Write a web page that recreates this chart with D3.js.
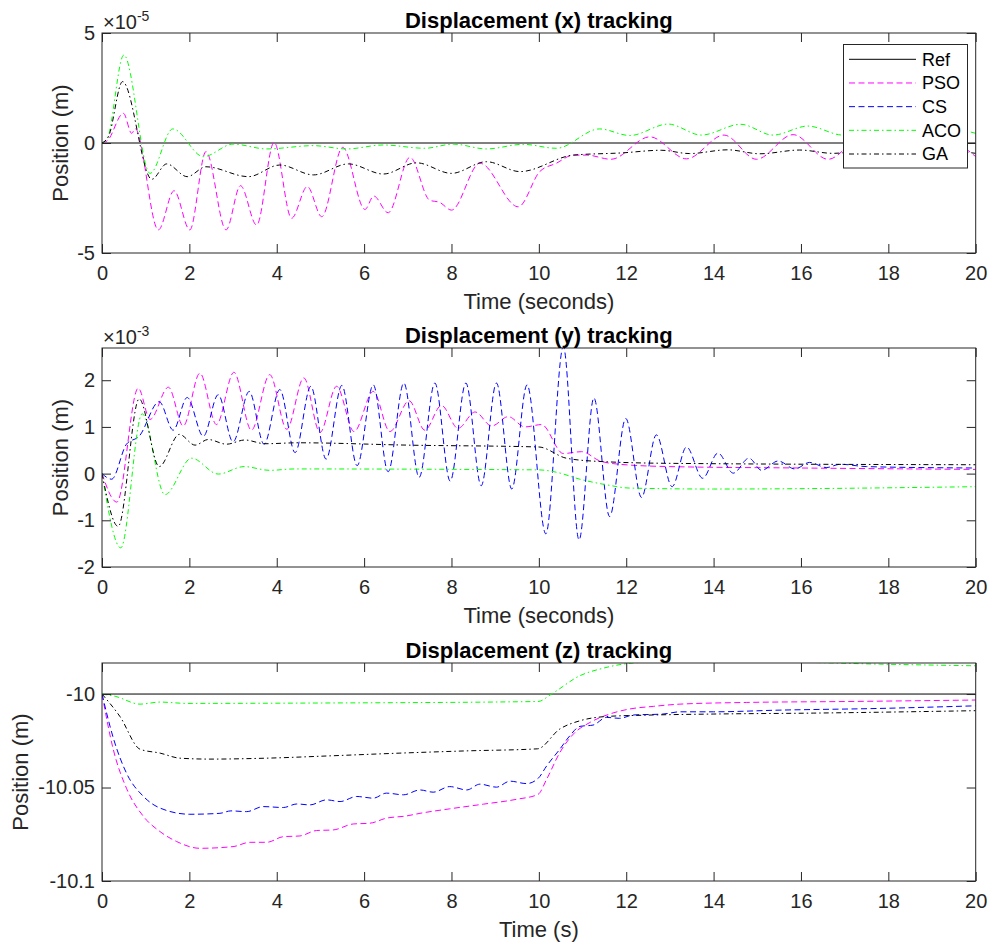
<!DOCTYPE html>
<html>
<head>
<meta charset="utf-8">
<script src="https://cdn.jsdelivr.net/npm/d3@7"></script>
<style>
  body { margin: 0; background: #fff; }
  text { font-family: "Liberation Sans", Arial, Helvetica, sans-serif; }
</style>
</head>
<body>
<div id="chart"></div>
<script>
// time in seconds
// panel 1 values are in units of 1e-5 m, panel 2 in units of 1e-3 m
var xRef = [[0, 0], [20, 0]];
var xPSO = [[0,0],[0.12,0.1],[0.49,1.35],[0.68,0.44],[0.76,0.65],[1.29,-3.95],[1.65,-2.17],[2.01,-3.95],[2.38,-0.39],[2.84,-3.95],[3.17,-1.94],[3.54,-3.73],[3.94,0.03],[4.34,-3.42],[4.70,-1.98],[5.03,-3.35],[5.51,-0.2],[6.02,-3.02],[6.22,-2.41],[6.55,-3.17],[7.05,-0.65],[7.5,-2.6],[7.73,-2.7],[8.0,-3.05],[8.65,-0.92],[9.53,-2.9],[10.02,-1.3],[10.4,-0.92],[10.79,-0.55],[11.1,-0.55],[11.65,-0.74],[12.54,0.28],[13.38,-0.72],[14.24,0.36],[14.98,-0.74],[15.82,0.38],[16.62,-0.74],[17.45,0.35],[18.3,-0.7],[19.15,0.3],[20,-0.62]];
var xCS = [];
var xACO = [[0,0],[0.12,0.2],[0.5,4.0],[1.1,-1.38],[1.62,0.64],[2.32,-0.62],[3.0,-0.05],[3.77,-0.27],[4.84,-0.12],[5.6,-0.27],[6.44,-0.09],[7.39,-0.24],[8.04,-0.05],[8.8,-0.27],[9.64,-0.06],[10.4,-0.24],[11.39,0.64],[12.08,0.34],[12.96,0.86],[13.72,0.36],[14.62,0.85],[15.36,0.36],[16.16,0.77],[16.96,0.36],[17.75,0.72],[18.55,0.4],[19.35,0.66],[20,0.44]];
var xGA = [[0,0],[0.15,0.3],[0.47,2.79],[1.14,-1.65],[1.48,-0.95],[1.95,-1.53],[2.38,-1.08],[3.35,-1.53],[4.07,-1.0],[4.84,-1.45],[5.64,-0.95],[6.44,-1.41],[7.2,-0.9],[8.0,-1.38],[8.8,-0.85],[9.57,-1.3],[10.79,-0.55],[11.9,-0.45],[12.8,-0.33],[13.45,-0.48],[14.32,-0.31],[15.06,-0.49],[15.97,-0.32],[16.73,-0.47],[17.6,-0.32],[18.4,-0.47],[19.2,-0.33],[20,-0.47]];

var yRef = [];
var yPSO = [[0,0],[0.34,-0.61],[0.83,1.83],[1.1,1.16],[1.52,1.85],[1.86,1.02],[2.24,2.15],[2.62,1.05],[3.02,2.17],[3.42,0.93],[3.84,2.12],[4.23,0.95],[4.62,2.05],[4.99,0.88],[5.37,1.87],[5.77,0.9],[6.21,1.76],[6.59,0.9],[7.03,1.56],[7.39,0.93],[7.77,1.46],[8.15,0.97],[8.54,1.32],[8.92,1.02],[9.3,1.22],[9.68,1.0],[10.06,1.05],[10.56,0.43],[10.98,0.47],[11.4,0.27],[11.85,0.2],[13,0.15],[16,0.12],[20,0.09]];
var yCS = [[0,0],[0.22,-0.12],[0.56,0.63],[0.85,0.8],[1.31,1.54],[1.63,0.93],[1.95,1.63],[2.32,0.8],[2.66,1.69],[3.0,0.68],[3.37,1.76],[3.71,0.63],[4.07,1.8],[4.42,0.45],[4.78,1.87],[5.13,0.31],[5.49,1.89],[5.84,0.17],[6.21,1.9],[6.55,0.04],[6.91,1.94],[7.26,-0.08],[7.62,1.94],[7.97,-0.16],[8.33,1.94],[8.68,-0.26],[9.03,1.94],[9.38,-0.33],[9.73,1.9],[10.16,-1.29],[10.56,2.72],[10.92,-1.42],[11.26,1.62],[11.62,-0.92],[11.99,1.18],[12.35,-0.51],[12.69,0.83],[13.05,-0.28],[13.38,0.57],[13.75,-0.1],[14.1,0.44],[14.45,0.01],[14.81,0.33],[15.1,0.07],[15.48,0.27],[15.86,0.1],[16.2,0.24],[16.58,0.13],[16.9,0.2],[17.5,0.15],[20,0.12]];
var yACO = [[0,0],[0.43,-1.59],[0.92,1.28],[1.44,-0.45],[2.05,0.33],[2.66,-0.01],[3.25,0.15],[3.84,0.07],[4.4,0.1],[10.0,0.08],[10.4,0.03],[10.94,-0.12],[11.55,-0.24],[12.08,-0.31],[14,-0.33],[20,-0.28]];
var yGA = [[0,0],[0.37,-1.13],[0.85,1.6],[1.31,0.15],[1.77,0.84],[2.13,0.61],[2.43,0.73],[2.85,0.63],[3.27,0.72],[3.73,0.64],[4.5,0.66],[7,0.61],[10.0,0.57],[10.63,0.33],[11.4,0.26],[13,0.22],[20,0.19]];

var zRef = [[0, -10], [20, -10]];
var zPSO = [[0,-10],[0.26,-10.0298],[0.56,-10.0504],[0.95,-10.0655],[1.33,-10.0736],[1.71,-10.0789],[2.24,-10.0825],[3.0,-10.0816],[3.39,-10.0793],[3.77,-10.0793],[4.15,-10.0763],[4.53,-10.0759],[4.91,-10.073],[5.29,-10.0727],[5.75,-10.0695],[6.13,-10.0691],[6.51,-10.0664],[6.97,-10.0652],[7.28,-10.0638],[7.96,-10.0614],[8.73,-10.0589],[9.49,-10.0563],[9.98,-10.0537],[10.18,-10.0455],[10.48,-10.0313],[10.79,-10.0214],[11.17,-10.0152],[11.62,-10.0107],[12.08,-10.008],[12.62,-10.0066],[13.23,-10.0054],[14.75,-10.0045],[17.04,-10.004],[20,-10.0032]];
var zCS = [[0,-10],[0.26,-10.0236],[0.56,-10.0423],[0.95,-10.0548],[1.33,-10.061],[2.01,-10.0643],[2.7,-10.0638],[2.95,-10.0625],[3.31,-10.0629],[3.69,-10.0602],[4.15,-10.0607],[4.46,-10.0588],[4.76,-10.0593],[5.14,-10.0566],[5.45,-10.0575],[5.83,-10.0548],[6.21,-10.0557],[6.51,-10.053],[6.9,-10.0539],[7.28,-10.0513],[7.58,-10.0525],[7.96,-10.0495],[8.35,-10.0513],[8.65,-10.0482],[9.03,-10.0498],[9.34,-10.0466],[9.72,-10.0479],[9.98,-10.0452],[10.18,-10.0384],[10.48,-10.0295],[10.71,-10.0223],[10.94,-10.0173],[11.24,-10.0166],[11.55,-10.0125],[11.85,-10.013],[12.16,-10.0112],[12.84,-10.0107],[13.23,-10.0095],[14.0,-10.0095],[15.52,-10.0086],[17.8,-10.0077],[20,-10.0063]];
var zACO = [[0,-10],[0.3,-10.0012],[0.87,-10.0054],[1.33,-10.0043],[1.94,-10.005],[5,-10.0048],[9.98,-10.004],[10.29,-10.0],[10.94,-9.9902],[11.47,-9.9862],[11.93,-9.984],[12.62,-9.9829],[15.5,-9.9829],[17.8,-9.984],[20,-9.9849]];
var zGA = [[0,-10],[0.41,-10.012],[0.87,-10.0295],[1.33,-10.0316],[1.78,-10.0343],[2.47,-10.0348],[3.77,-10.0343],[5.29,-10.033],[6.82,-10.0316],[8.35,-10.0304],[9.97,-10.0293],[10.48,-10.0187],[10.94,-10.0143],[11.55,-10.012],[12.46,-10.0113],[13.99,-10.0107],[16.28,-10.0102],[20,-10.0089]];

var seriesNames = ["Ref", "PSO", "CS", "ACO", "GA"];
var xTicks = [0, 2, 4, 6, 8, 10, 12, 14, 16, 18, 20];

var styles = {
    "Ref": {color: "#000000", dash: null},
    "PSO": {color: "#ff00ff", dash: "6,3.5"},
    "CS":  {color: "#0000ff", dash: "6,3.5"},
    "ACO": {color: "#00ff00", dash: "5,3,1.5,3"},
    "GA":  {color: "#000000", dash: "5,3,1.5,3"}
};

// plain hyphen minus, as in the figure
function plainFmt(d) { return String(d); }

var panels = [
    {title: "Displacement (x) tracking", top: 33, bottom: 253, yDomain: [-5, 5], yTicks: [-5, 0, 5],
     exponent: "-5", xLabel: "Time (seconds)", yLabelX: 67.5,
     data: {Ref: xRef, PSO: xPSO, CS: xCS, ACO: xACO, GA: xGA}, legend: true},
    {title: "Displacement (y) tracking", top: 348, bottom: 567, yDomain: [-2, 2.69], yTicks: [-2, -1, 0, 1, 2],
     exponent: "-3", xLabel: "Time (seconds)", yLabelX: 67.5,
     data: {Ref: yRef, PSO: yPSO, CS: yCS, ACO: yACO, GA: yGA}},
    {title: "Displacement (z) tracking", top: 663, bottom: 881, yDomain: [-10.1, -9.9834], yTicks: [-10.1, -10.05, -10],
     exponent: null, xLabel: "Time (s)", yLabelX: 27.5,
     data: {Ref: zRef, PSO: zPSO, CS: zCS, ACO: zACO, GA: zGA}}
];

var left = 102, right = 975.7;
var axisColor = "#262626";

var svg = d3.select("#chart").append("svg")
    .attr("width", 991)
    .attr("height", 945);

var xScale = d3.scaleLinear().domain([0, 20]).range([left, right]);

panels.forEach(function(p, i) {
    var yScale = d3.scaleLinear().domain(p.yDomain).range([p.bottom, p.top]);
    var g = svg.append("g");
    var clipId = "clip" + i;

    g.append("clipPath").attr("id", clipId)
        .append("rect")
        .attr("x", left).attr("y", p.top)
        .attr("width", right - left).attr("height", p.bottom - p.top);

    // lines
    var line = d3.line()
        .x(function(d) { return xScale(d[0]); })
        .y(function(d) { return yScale(d[1]); })
        .curve(d3.curveMonotoneX);

    var lines = g.append("g").attr("clip-path", "url(#" + clipId + ")");
    seriesNames.forEach(function(name) {
        var pts = p.data[name];
        if (!pts.length) return;
        lines.append("path")
            .attr("d", line(pts))
            .attr("fill", "none")
            .attr("stroke", styles[name].color)
            .attr("stroke-width", 1)
            .attr("stroke-dasharray", styles[name].dash);
    });

    // axes with inward ticks on all four sides
    var bottomAxis = g.append("g")
        .attr("transform", "translate(0," + p.bottom + ")")
        .call(d3.axisBottom(xScale).tickValues(xTicks).tickSizeInner(-9).tickSizeOuter(0).tickPadding(13).tickFormat(plainFmt));
    var topAxis = g.append("g")
        .attr("transform", "translate(0," + p.top + ")")
        .call(d3.axisTop(xScale).tickValues(xTicks).tickSizeInner(-9).tickSizeOuter(0).tickFormat(""));
    var leftAxis = g.append("g")
        .attr("transform", "translate(" + left + ",0)")
        .call(d3.axisLeft(yScale).tickValues(p.yTicks).tickSizeInner(-9).tickSizeOuter(0).tickPadding(7).tickFormat(plainFmt));
    var rightAxis = g.append("g")
        .attr("transform", "translate(" + right + ",0)")
        .call(d3.axisRight(yScale).tickValues(p.yTicks).tickSizeInner(-9).tickSizeOuter(0).tickFormat(""));

    [bottomAxis, topAxis, leftAxis, rightAxis].forEach(function(a) {
        a.select(".domain").remove();
        a.selectAll("line").attr("stroke", axisColor);
        a.selectAll("text")
            .attr("fill", axisColor)
            .style("font-size", "20px")
            .style("font-family", "'Liberation Sans', Arial, Helvetica, sans-serif");
    });

    g.append("rect")
        .attr("x", left).attr("y", p.top)
        .attr("width", right - left).attr("height", p.bottom - p.top)
        .attr("fill", "none")
        .attr("stroke", axisColor)
        .attr("stroke-width", 1);

    // title
    g.append("text")
        .attr("x", (left + right) / 2)
        .attr("y", p.top - 5.5)
        .attr("text-anchor", "middle")
        .style("font-size", "22px")
        .style("font-weight", "bold")
        .attr("fill", "#000")
        .text(p.title);

    // axis labels
    g.append("text")
        .attr("x", (left + right) / 2)
        .attr("y", p.bottom + 56)
        .attr("text-anchor", "middle")
        .style("font-size", "22px")
        .attr("fill", axisColor)
        .text(p.xLabel);

    g.append("text")
        .attr("transform", "translate(" + p.yLabelX + "," + ((p.top + p.bottom) / 2) + ") rotate(-90)")
        .attr("text-anchor", "middle")
        .style("font-size", "22px")
        .attr("fill", axisColor)
        .text("Position (m)");

    // exponent label
    if (p.exponent) {
        var ex = g.append("text")
            .attr("x", left + 1)
            .attr("y", p.top - 4)
            .style("font-size", "20px")
            .attr("fill", axisColor);
        ex.append("tspan").text("\u00d710");
        ex.append("tspan").attr("dy", -8).style("font-size", "14px").text(p.exponent);
    }

    // legend
    if (p.legend) {
        var lg = g.append("g");
        lg.append("rect")
            .attr("x", 843.5).attr("y", 44.5)
            .attr("width", 124).attr("height", 123.5)
            .attr("fill", "#fff")
            .attr("stroke", axisColor)
            .attr("stroke-width", 1);
        var rowY = d3.scalePoint().domain(seriesNames).range([59.3, 154]);
        seriesNames.forEach(function(name) {
            lg.append("line")
                .attr("x1", 849).attr("x2", 916)
                .attr("y1", rowY(name)).attr("y2", rowY(name))
                .attr("stroke", styles[name].color)
                .attr("stroke-width", 1)
                .attr("stroke-dasharray", styles[name].dash);
            lg.append("text")
                .attr("x", 922).attr("y", rowY(name))
                .attr("dy", "0.35em")
                .style("font-size", "18px")
                .attr("fill", "#000")
                .text(name);
        });
    }
});
</script>
</body>
</html>
